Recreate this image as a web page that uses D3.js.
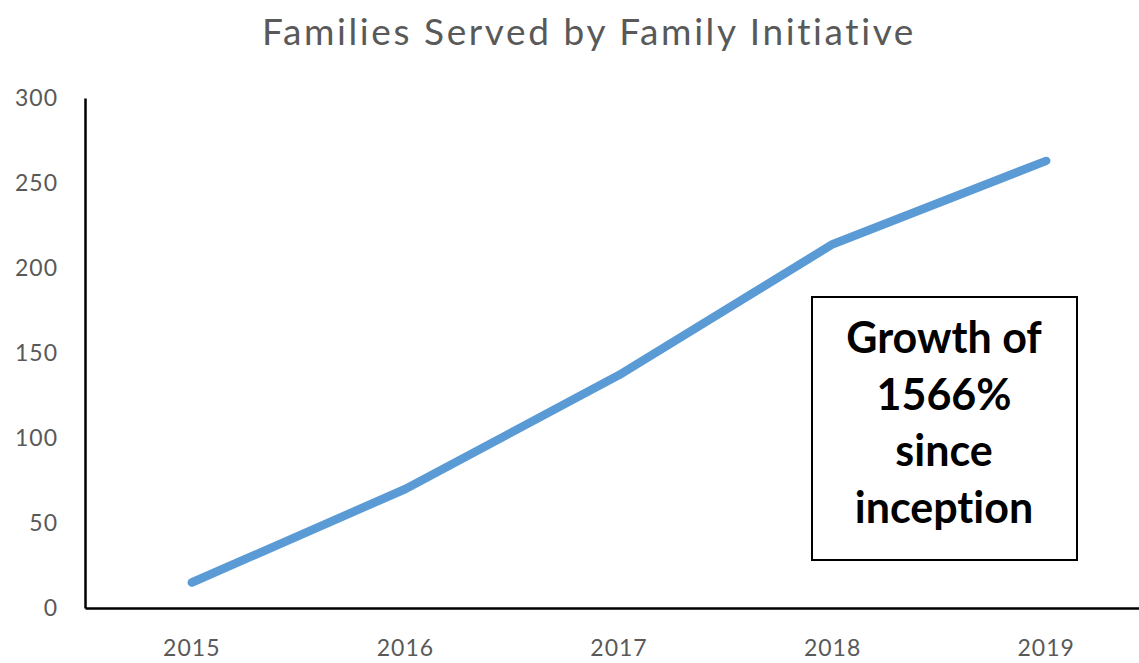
<!DOCTYPE html>
<html>
<head>
<meta charset="utf-8">
<script src="https://cdn.jsdelivr.net/npm/d3@7"></script>
<style>
  html, body { margin: 0; padding: 0; background: #fff; }
  svg { display: block; font-variant-ligatures: none; }
</style>
</head>
<body>
<div id="chart"></div>
<script>
// Chart data
const years = ['2015', '2016', '2017', '2018', '2019']
const families = [15, 70, 137, 214, 263]
const yTicks = [0, 50, 100, 150, 200, 250, 300]
const titleText = 'Families Served by Family Initiative'
const noteLines = ['Growth of', '1566%', 'since', 'inception']

const width = 1139
const height = 663
const margin = { top: 98, right: -14, bottom: 55, left: 85 }

const svg = d3.select('#chart')
  .append('svg')
  .attr('width', width)
  .attr('height', height)

const x = d3.scaleBand()
  .domain(years)
  .range([margin.left, width - margin.right])

const y = d3.scaleLinear()
  .domain([0, 300])
  .range([height - margin.bottom, margin.top])

const font = 'Lato, "Open Sans", sans-serif'
const grey = '#595959'

// Title
svg.append('text')
  .attr('x', 589)
  .attr('y', 45)
  .attr('text-anchor', 'middle')
  .style('font-family', font)
  .style('font-size', '37px')
  .style('letter-spacing', '2.6px')
  .style('fill', grey)
  .text(titleText)

// Y axis
const yAxis = svg.append('g')
  .attr('transform', `translate(${margin.left},0)`)
  .call(d3.axisLeft(y).tickValues(yTicks).tickSize(0).tickPadding(27))
yAxis.select('.domain').attr('stroke', '#000').attr('stroke-width', 2.5)
yAxis.selectAll('text')
  .style('font-family', font)
  .style('font-size', '23px')
  .style('letter-spacing', '1px')
  .style('fill', grey)

// X axis
const xAxis = svg.append('g')
  .attr('transform', `translate(0,${y(0)})`)
  .call(d3.axisBottom(x).tickSize(0).tickPadding(32))
xAxis.select('.domain').attr('stroke', '#000').attr('stroke-width', 2.5)
xAxis.selectAll('text')
  .style('font-family', font)
  .style('font-size', '23px')
  .style('letter-spacing', '1px')
  .style('fill', grey)

// Line
const line = d3.line()
  .x((d, i) => x(years[i]) + x.bandwidth() / 2)
  .y(d => y(d))

svg.append('path')
  .datum(families)
  .attr('d', line)
  .attr('fill', 'none')
  .attr('stroke', '#5b9bd5')
  .attr('stroke-width', 8.5)
  .attr('stroke-linecap', 'round')
  .attr('stroke-linejoin', 'round')

// Annotation box
const box = svg.append('g')
box.append('rect')
  .attr('x', 812)
  .attr('y', 297)
  .attr('width', 265)
  .attr('height', 263)
  .attr('fill', '#fff')
  .attr('stroke', '#000')
  .attr('stroke-width', 2)

box.selectAll('text.note')
  .data(noteLines)
  .join('text')
  .attr('class', 'note')
  .attr('x', 944)
  .attr('y', (d, i) => 353 + i * 56.5)
  .attr('text-anchor', 'middle')
  .style('font-family', font)
  .style('font-weight', 'bold')
  .style('font-size', '43px')
  .style('fill', '#000')
  .text(d => d)
</script>
</body>
</html>
